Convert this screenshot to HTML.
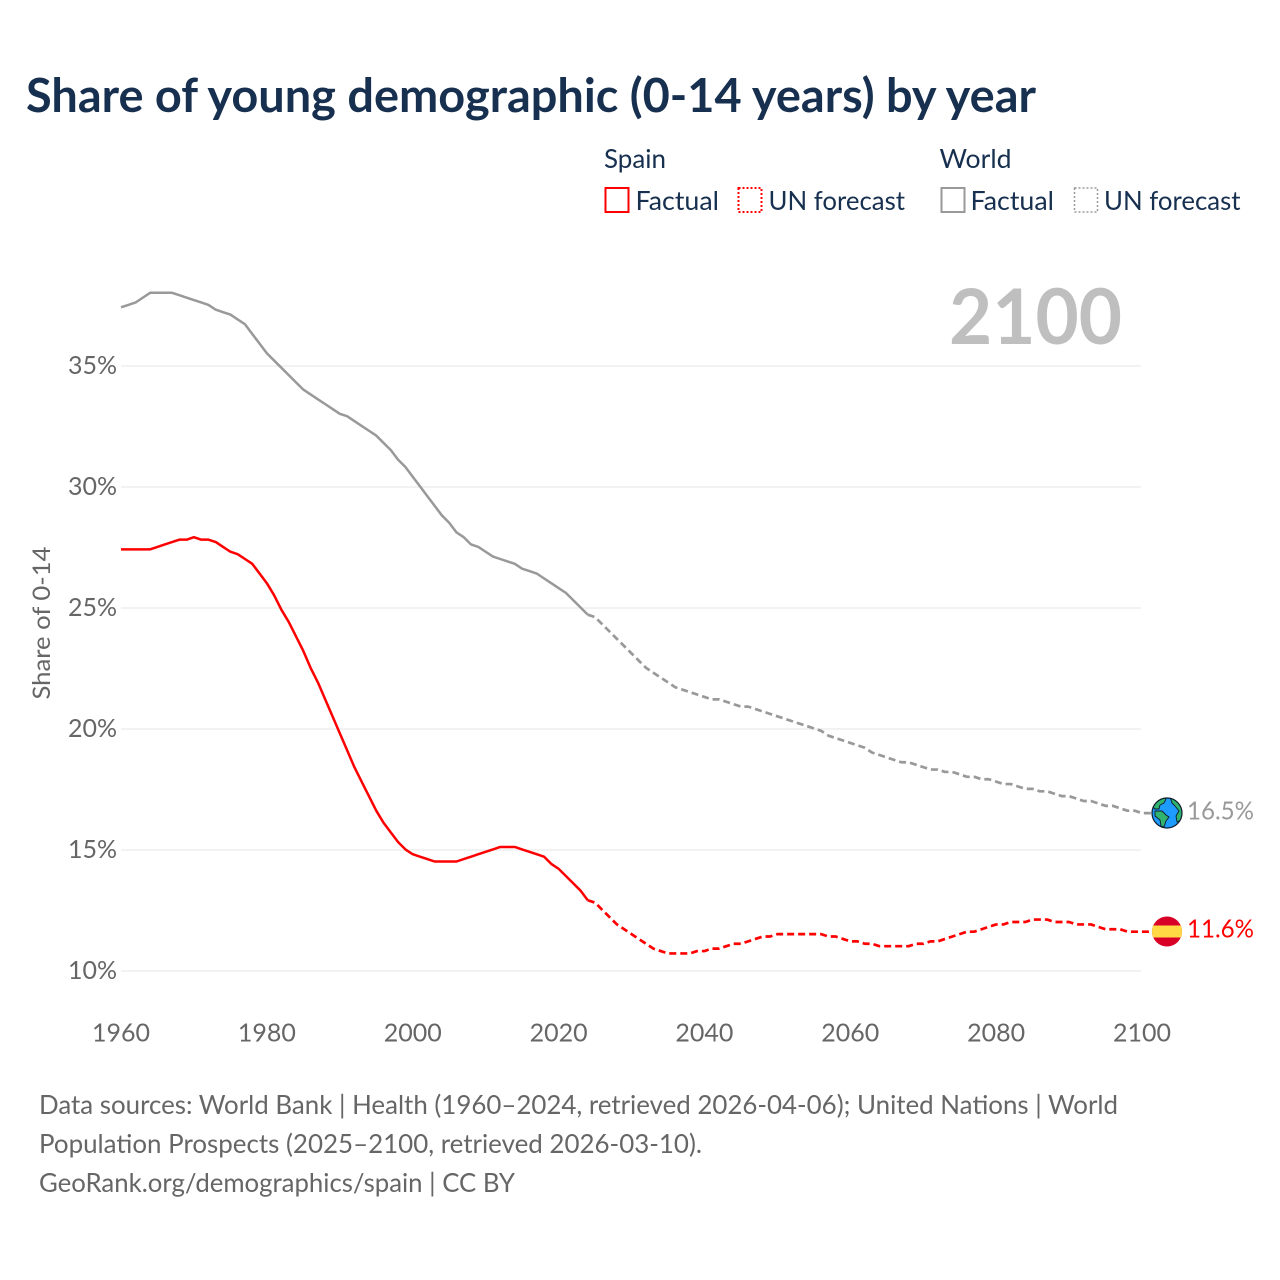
<!DOCTYPE html>
<html lang="en">
<head>
<meta charset="utf-8">
<title>Share of young demographic (0-14 years) by year</title>
<style>
html,body{margin:0;padding:0;background:#fff;width:1280px;height:1280px;overflow:hidden}
svg{display:block}
text{font-family:"Lato","Carlito","Liberation Sans",sans-serif}
</style>
</head>
<body>
<svg id="chart" width="1280" height="1280" viewBox="0 0 1280 1280" xmlns="http://www.w3.org/2000/svg">
  <defs>
    <clipPath id="flag-clip"><circle cx="1167" cy="931.5" r="15"/></clipPath>
    <clipPath id="globe-clip"><circle cx="1167" cy="813" r="15"/></clipPath>
  </defs>
  <text x="26" y="112" font-size="47" font-weight="700" fill="#17304f" textLength="1010" lengthAdjust="spacingAndGlyphs">Share of young demographic (0-14 years) by year</text>

  <g font-size="26.5" fill="#17304f">
    <text x="604" y="168" textLength="62" lengthAdjust="spacingAndGlyphs">Spain</text>
    <text x="939.5" y="168" textLength="72" lengthAdjust="spacingAndGlyphs">World</text>
    <rect x="605.5" y="188" width="23" height="24" fill="none" stroke="#ff0000" stroke-width="2"/>
    <text x="635.5" y="210" textLength="83.5" lengthAdjust="spacingAndGlyphs">Factual</text>
    <rect x="738.5" y="188" width="23" height="24" fill="none" stroke="#ff0000" stroke-width="2" stroke-dasharray="2 2"/>
    <text x="768.5" y="210" textLength="136.5" lengthAdjust="spacingAndGlyphs">UN forecast</text>
    <rect x="941.5" y="188" width="23" height="24" fill="none" stroke="#999999" stroke-width="2"/>
    <text x="970.5" y="210" textLength="83.5" lengthAdjust="spacingAndGlyphs">Factual</text>
    <rect x="1074.5" y="188" width="23" height="24" fill="none" stroke="#999999" stroke-width="1.5" stroke-dasharray="2 2"/>
    <text x="1104" y="210" textLength="136.5" lengthAdjust="spacingAndGlyphs">UN forecast</text>
  </g>

  <g id="grid"></g>
  <g id="yticks" font-size="25" fill="#666666" text-anchor="end"></g>
  <g id="xticks" font-size="25" fill="#666666" text-anchor="middle"></g>
  <text transform="translate(50,623) rotate(-90)" font-size="24.5" fill="#666666" text-anchor="middle" textLength="153" lengthAdjust="spacingAndGlyphs">Share of 0-14</text>

  <text x="1122" y="344" font-size="77" font-weight="700" fill="#bfbfbf" text-anchor="end" textLength="173" lengthAdjust="spacingAndGlyphs">2100</text>

  <g id="series"></g>

  <g>
    <circle cx="1167" cy="813" r="15" fill="#1e9bff"/>
    <g clip-path="url(#globe-clip)" fill="#2fb36f" stroke="#0d1b2a" stroke-width="0.9">
      <path d="M1152 806 L1157 800 L1164 797 L1166 799 L1164 803 L1160 805 L1159 809 L1155 809Z"/>
      <path d="M1155 811 L1162 811 L1166 815 L1169 817 L1166 821 L1164 827 L1161 826 L1160 820 L1155 816Z"/>
      <path d="M1170 797 L1176 799 L1181 805 L1183 812 L1181 820 L1177 822 L1176 816 L1179 811 L1175 806 L1172 803Z"/>
    </g>
    <circle cx="1167" cy="813" r="15" fill="none" stroke="#0d1b2a" stroke-width="1.2"/>
  </g>
  <g clip-path="url(#flag-clip)">
    <rect x="1152" y="916" width="30" height="31" fill="#d80027"/>
    <rect x="1152" y="925.5" width="30" height="12" fill="#ffda44"/>
  </g>
  <text x="1187" y="819.5" font-size="25.5" fill="#999999" textLength="67" lengthAdjust="spacingAndGlyphs">16.5%</text>
  <text x="1187" y="937.5" font-size="25.5" fill="#ff0000" textLength="67" lengthAdjust="spacingAndGlyphs">11.6%</text>

  <g font-size="26.5" fill="#666666">
    <text x="39" y="1114" textLength="1079" lengthAdjust="spacingAndGlyphs">Data sources: World Bank | Health (1960–2024, retrieved 2026-04-06); United Nations | World</text>
    <text x="39" y="1153" textLength="663" lengthAdjust="spacingAndGlyphs">Population Prospects (2025–2100, retrieved 2026-03-10).</text>
    <text x="39" y="1192" textLength="476" lengthAdjust="spacingAndGlyphs">GeoRank.org/demographics/spain | CC BY</text>
  </g>
</svg>
<script>
var yTickValues = [10, 15, 20, 25, 30, 35];
var xTickValues = [1960, 1980, 2000, 2020, 2040, 2060, 2080, 2100];
var factualStartYear = 1960;
var forecastStartYear = 2024;
var spainFactual = [27.4,27.4,27.4,27.4,27.4,27.5,27.6,27.7,27.8,27.8,27.9,27.8,27.8,27.7,27.5,27.3,27.2,27.0,26.8,26.4,26.0,25.5,24.9,24.4,23.8,23.2,22.5,21.9,21.2,20.5,19.8,19.1,18.4,17.8,17.2,16.6,16.1,15.7,15.3,15.0,14.8,14.7,14.6,14.5,14.5,14.5,14.5,14.6,14.7,14.8,14.9,15.0,15.1,15.1,15.1,15.0,14.9,14.8,14.7,14.4,14.2,13.9,13.6,13.3,12.9];
var spainForecast = [12.9,12.8,12.5,12.2,11.9,11.7,11.5,11.3,11.1,10.9,10.8,10.7,10.7,10.7,10.7,10.8,10.8,10.9,10.9,11.0,11.1,11.1,11.2,11.3,11.4,11.4,11.5,11.5,11.5,11.5,11.5,11.5,11.5,11.4,11.4,11.3,11.2,11.2,11.1,11.1,11.0,11.0,11.0,11.0,11.0,11.1,11.1,11.2,11.2,11.3,11.4,11.5,11.6,11.6,11.7,11.8,11.9,11.9,12.0,12.0,12.0,12.1,12.1,12.1,12.0,12.0,12.0,11.9,11.9,11.9,11.8,11.7,11.7,11.7,11.6,11.6,11.6];
var worldFactual = [37.4,37.5,37.6,37.8,38.0,38.0,38.0,38.0,37.9,37.8,37.7,37.6,37.5,37.3,37.2,37.1,36.9,36.7,36.3,35.9,35.5,35.2,34.9,34.6,34.3,34.0,33.8,33.6,33.4,33.2,33.0,32.9,32.7,32.5,32.3,32.1,31.8,31.5,31.1,30.8,30.4,30.0,29.6,29.2,28.8,28.5,28.1,27.9,27.6,27.5,27.3,27.1,27.0,26.9,26.8,26.6,26.5,26.4,26.2,26.0,25.8,25.6,25.3,25.0,24.7];
var worldForecast = [24.7,24.6,24.3,24.0,23.7,23.4,23.1,22.8,22.5,22.3,22.1,21.9,21.7,21.6,21.5,21.4,21.3,21.2,21.2,21.1,21.0,20.9,20.9,20.8,20.7,20.6,20.5,20.4,20.3,20.2,20.1,20.0,19.9,19.7,19.6,19.5,19.4,19.3,19.2,19.0,18.9,18.8,18.7,18.6,18.6,18.5,18.4,18.3,18.3,18.2,18.2,18.1,18.0,18.0,17.9,17.9,17.8,17.7,17.7,17.6,17.5,17.5,17.4,17.4,17.3,17.2,17.2,17.1,17.0,17.0,16.9,16.8,16.8,16.7,16.6,16.6,16.5];

var NS = 'http://www.w3.org/2000/svg';
function xScale(year) { return 121 + (year - 1960) * (1021 / 140); }
function yScale(v) { return 971 - (v - 10) * (605 / 25); }

var grid = document.getElementById('grid');
var yticks = document.getElementById('yticks');
var xticks = document.getElementById('xticks');
var series = document.getElementById('series');

yTickValues.forEach(function (v) {
  var l = document.createElementNS(NS, 'line');
  l.setAttribute('x1', 121);
  l.setAttribute('x2', 1141);
  l.setAttribute('y1', yScale(v));
  l.setAttribute('y2', yScale(v));
  l.setAttribute('stroke', '#eeeeee');
  l.setAttribute('stroke-width', '1.5');
  
  
  grid.appendChild(l);
  var t = document.createElementNS(NS, 'text');
  t.setAttribute('x', 117);
  t.setAttribute('y', yScale(v) + 8);
  t.textContent = v + '%';
  
  
  yticks.appendChild(t);
});

xTickValues.forEach(function (year) {
  var t = document.createElementNS(NS, 'text');
  t.setAttribute('x', xScale(year));
  t.setAttribute('y', 1041.5);
  t.textContent = year;
  
  
  xticks.appendChild(t);
});

function drawLine(values, startYear, color, dash, name, leader) {
  var pts = values.map(function (v, i) {
    return xScale(startYear + i).toFixed(2) + ',' + (yScale(v) - 0.6).toFixed(2);
  });
  if (leader) {
    pts.push('1152,' + (yScale(values[values.length - 1]) - 0.6).toFixed(2));
  }
  var p = document.createElementNS(NS, 'polyline');
  p.setAttribute('points', pts.join(' '));
  p.setAttribute('fill', 'none');
  p.setAttribute('stroke', color);
  p.setAttribute('stroke-width', dash ? '2.7' : '2.5');
  p.setAttribute('stroke-linejoin', 'round');
  if (dash) { p.setAttribute('stroke-dasharray', '7 4'); }
  
  
  series.appendChild(p);
}

drawLine(worldFactual, factualStartYear, '#999999', false, 'line-world-factual', false);
drawLine(worldForecast, forecastStartYear, '#999999', true, 'line-world-forecast', true);
drawLine(spainFactual, factualStartYear, '#ff0000', false, 'line-spain-factual', false);
drawLine(spainForecast, forecastStartYear, '#ff0000', true, 'line-spain-forecast', true);
</script>
</body>
</html>
